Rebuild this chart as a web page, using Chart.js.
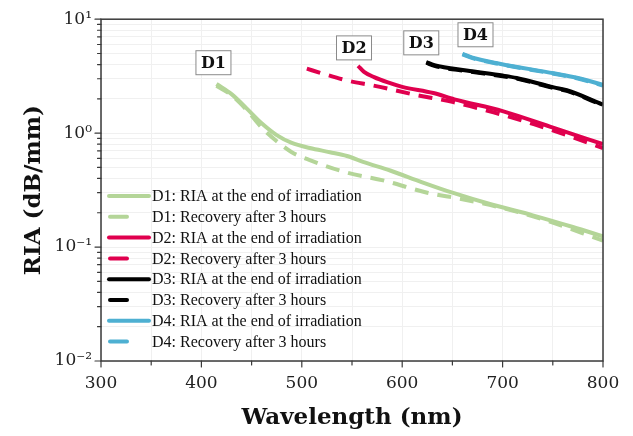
<!DOCTYPE html>
<html>
<head>
<meta charset="utf-8">
<script src="https://cdn.jsdelivr.net/npm/chart.js@4/dist/chart.umd.min.js"></script>
<style>
  html, body { margin: 0; padding: 0; background: #fff; }
  #wrap { width: 633px; height: 436px; }
</style>
</head>
<body>
<div id="wrap"><canvas id="grafico-ria"></canvas></div>
<script>
// valores (comprimento de onda em nm, RIA em dB/mm)
const d1RiaX = [415, 430, 445, 460, 475, 490, 508, 528, 545, 561, 588, 620, 650, 690, 730, 770, 800];
const d1RiaY = [2.7, 2.2, 1.65, 1.22, 0.96, 0.82, 0.74, 0.68, 0.63, 0.56, 0.47, 0.37, 0.30, 0.235, 0.19, 0.15, 0.124];
const d1RecX = [415, 430, 445, 460, 475, 490, 508, 545, 581, 625, 660, 700, 740, 800];
const d1RecY = [2.6, 2.15, 1.6, 1.12, 0.85, 0.68, 0.58, 0.45, 0.385, 0.30, 0.263, 0.22, 0.175, 0.114];

const d2RiaX = [556, 562, 572, 585, 600, 631, 652, 700, 751, 800];
const d2RiaY = [3.9, 3.45, 3.1, 2.8, 2.55, 2.25, 1.98, 1.56, 1.11, 0.80];
const d2RecX = [505, 520, 545, 571, 611, 651, 691, 731, 767, 800];
const d2RecY = [3.68, 3.35, 2.9, 2.62, 2.19, 1.87, 1.52, 1.2, 0.94, 0.74];

const d3RiaX = [624, 632, 664, 700, 714, 751, 764, 800];
const d3RiaY = [4.2, 3.95, 3.54, 3.2, 3.05, 2.52, 2.38, 1.78];
const d3RecX = [624, 632, 664, 700, 714, 751, 764, 800];
const d3RecY = [4.15, 3.9, 3.5, 3.16, 3.01, 2.49, 2.35, 1.75];

const d4RiaX = [660, 670, 697, 751, 775, 800];
const d4RiaY = [4.97, 4.6, 4.07, 3.35, 3.05, 2.65];
const d4RecX = [660, 670, 697, 751, 775, 800];
const d4RecY = [4.92, 4.55, 4.03, 3.32, 3.02, 2.62];

const legendas = [
  'D1: RIA at the end of irradiation', 'D1: Recovery after 3 hours',
  'D2: RIA at the end of irradiation', 'D2: Recovery after 3 hours',
  'D3: RIA at the end of irradiation', 'D3: Recovery after 3 hours',
  'D4: RIA at the end of irradiation', 'D4: Recovery after 3 hours'
];
const rotulos = ['D1', 'D2', 'D3', 'D4'];
const rotuloX = [412, 552, 619, 673];
const rotuloY = [4.15, 5.6, 6.2, 7.3];

const xTicks = [300, 350, 400, 450, 500, 550, 600, 650, 700, 750, 800];
const yTicks = [];
for (let e = -2; e < 1; e++) {
  for (let m = 1; m < 10; m++) yTicks.push(Number((m * Math.pow(10, e)).toPrecision(2)));
}
yTicks.push(10);
const yLabels = { 0.01: '10\u207B\u00B2', 0.1: '10\u207B\u00B9', 1: '10\u2070', 10: '10\u00B9' };

const verde = 'rgb(180, 213, 152)';
const vermelho = 'rgb(224, 0, 78)';
const preto = '#000000';
const azul = 'rgb(78, 176, 210)';

function pontos(xs, ys) {
  return xs.map((x, i) => ({ x: x, y: ys[i] }));
}

function serie(label, xs, ys, cor, tracejado) {
  return {
    label: label,
    data: pontos(xs, ys),
    borderColor: cor,
    backgroundColor: cor,
    borderWidth: 4,
    borderDash: tracejado ? [14, 9] : [],
    pointRadius: 0,
    fill: false,
    cubicInterpolationMode: 'monotone'
  };
}

// moldura, marcas dos eixos, legenda interna e caixas D1..D4
const extras = {
  id: 'extras',
  afterDatasetsDraw(chart) {
    const ctx = chart.ctx;
    const a = chart.chartArea;
    const sx = chart.scales.x, sy = chart.scales.y;
    ctx.save();

    // legenda
    ctx.font = '16px "Liberation Serif", serif';
    ctx.textBaseline = 'middle';
    chart.data.datasets.forEach((ds, i) => {
      const y = 196 + i * 20.8;
      ctx.strokeStyle = ds.borderColor;
      ctx.lineWidth = 4;
      ctx.lineCap = 'round';
      ctx.beginPath();
      if (ds.borderDash.length) {
        ctx.moveTo(a.left + 9, y); ctx.lineTo(a.left + 26, y);
      } else {
        ctx.moveTo(a.left + 8, y); ctx.lineTo(a.left + 48, y);
      }
      ctx.stroke();
      ctx.fillStyle = '#111';
      ctx.textAlign = 'left';
      ctx.fillText(legendas[i], a.left + 51, y + 1);
    });

    // caixas com os nomes
    ctx.font = 'bold 16px "DejaVu Serif", serif';
    ctx.textAlign = 'center';
    rotulos.forEach((t, i) => {
      const px = sx.getPixelForValue(rotuloX[i]);
      const py = sy.getPixelForValue(rotuloY[i]);
      const w = ctx.measureText(t).width + 10;
      ctx.fillStyle = '#fff';
      ctx.fillRect(px - w / 2, py - 12, w, 24);
      ctx.strokeStyle = '#8a8a8a';
      ctx.lineWidth = 1;
      ctx.strokeRect(px - w / 2, py - 12, w, 24);
      ctx.fillStyle = '#111';
      ctx.fillText(t, px, py + 1);
    });

    // moldura
    ctx.strokeStyle = '#3a3a3a';
    ctx.lineWidth = 1.5;
    ctx.strokeRect(a.left, a.top, a.right - a.left, a.bottom - a.top);

    // marcas
    ctx.lineWidth = 1.2;
    ctx.beginPath();
    xTicks.forEach(v => {
      const px = sx.getPixelForValue(v);
      ctx.moveTo(px, a.bottom);
      ctx.lineTo(px, a.bottom + (v % 100 === 0 ? 6 : 4));
    });
    yTicks.forEach(v => {
      const py = sy.getPixelForValue(v);
      const maior = yLabels[v] !== undefined;
      ctx.moveTo(a.left, py);
      ctx.lineTo(a.left - (maior ? 6 : 3.5), py);
    });
    ctx.stroke();
    ctx.restore();
  }
};

const ctxRia = document.getElementById('grafico-ria');
new Chart(ctxRia, {
  type: 'line',
  data: {
    datasets: [
      serie(legendas[0], d1RiaX, d1RiaY, verde, false),
      serie(legendas[1], d1RecX, d1RecY, verde, true),
      serie(legendas[2], d2RiaX, d2RiaY, vermelho, false),
      serie(legendas[3], d2RecX, d2RecY, vermelho, true),
      serie(legendas[4], d3RiaX, d3RiaY, preto, false),
      serie(legendas[5], d3RecX, d3RecY, preto, true),
      serie(legendas[6], d4RiaX, d4RiaY, azul, false),
      serie(legendas[7], d4RecX, d4RecY, azul, true)
    ]
  },
  options: {
    responsive: true,
    maintainAspectRatio: false,
    animation: false,
    layout: { padding: { top: 15, right: 30, left: 0, bottom: 0 } },
    plugins: { legend: { display: false }, tooltip: { enabled: false } },
    scales: {
      x: {
        type: 'linear',
        min: 300,
        max: 800,
        afterBuildTicks: s => { s.ticks = xTicks.map(v => ({ value: v })); },
        afterFit: s => { s.height = 75; },
        border: { display: false },
        grid: { color: '#f0f0f0', drawTicks: false },
        ticks: {
          autoSkip: false,
          maxRotation: 0,
          padding: 12,
          color: '#222',
          font: { family: 'DejaVu Serif', size: 17 },
          callback: v => (v % 100 === 0 ? String(v) : '')
        },
        title: {
          display: true,
          text: 'Wavelength (nm)',
          color: '#111',
          font: { family: 'DejaVu Serif', size: 23, weight: 'bold' },
          padding: { top: 0, bottom: 4 }
        }
      },
      y: {
        type: 'logarithmic',
        min: 0.01,
        max: 10,
        afterBuildTicks: s => { s.ticks = yTicks.map(v => ({ value: v })); },
        afterFit: s => { s.width = 101; },
        border: { display: false },
        grid: { color: '#f0f0f0', drawTicks: false },
        ticks: {
          autoSkip: false,
          padding: 9,
          color: '#222',
          font: { family: 'DejaVu Serif', size: 17 },
          callback: v => (yLabels[v] !== undefined ? yLabels[v] : '')
        },
        title: {
          display: true,
          text: 'RIA (dB/mm)',
          color: '#111',
          font: { family: 'DejaVu Serif', size: 23, weight: 'bold' },
          padding: { top: 20, bottom: 0 }
        }
      }
    }
  },
  plugins: [extras]
});
</script>
</body>
</html>
